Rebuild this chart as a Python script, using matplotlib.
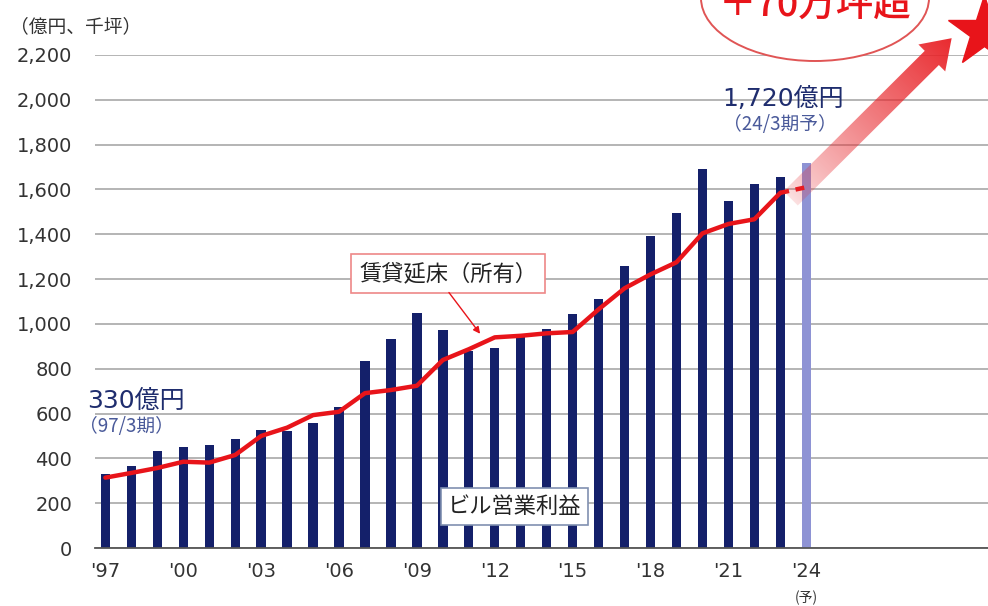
import numpy as np
import matplotlib
matplotlib.use("Agg")
import matplotlib.pyplot as plt
from matplotlib.patches import Polygon, Ellipse

plt.rcParams['font.family'] = ['DejaVu Sans', 'Noto Sans CJK JP']

# data
years = list(range(1997, 2025))
profit = [330, 366, 435, 452, 458, 487, 528, 523, 557, 630, 834, 932, 1050, 973,
          880, 894, 940, 976, 1043, 1110, 1260, 1392, 1496, 1690, 1548, 1623, 1654, 1720]
floor = [314, 335, 357, 385, 381, 415, 500, 537, 593, 608, 691, 705, 724, 839,
         887, 940, 947, 958, 964, 1065, 1159, 1221, 1275, 1404, 1446, 1467, 1585, 1610]
tick_years = [1997, 2000, 2003, 2006, 2009, 2012, 2015, 2018, 2021, 2024]
tick_labels = ["'97", "'00", "'03", "'06", "'09", "'12", "'15", "'18", "'21", "'24"]
yticks = list(range(0, 2201, 200))

W, H = 988, 606
NAVY = '#14206a'
RED = '#e8141a'
JP = ['Noto Sans CJK JP', 'DejaVu Sans']

fig = plt.figure(figsize=(W / 100, H / 100), dpi=100)
ax = fig.add_axes([95 / W, 58 / H, (W - 95) / W, (548 - 55) / H])

colors = [NAVY] * (len(years) - 1) + ['#8e93d4']
ax.bar(years, profit, width=0.36, color=colors, zorder=2)
ax.plot(years[:-1], floor[:-1], color=RED, lw=3.2, zorder=3, solid_capstyle='round')
ax.plot(years[-2:], floor[-2:], color=RED, lw=3.2, ls=(0, (2, 1.5)), zorder=3)

ax.set_xlim(1996.6, 2031.0)
ax.set_ylim(0, 2200)
ax.set_yticks(yticks)
ax.set_yticklabels([f'{v:,}' for v in yticks], fontsize=14, color='#333333')
ax.set_xticks(tick_years)
ax.set_xticklabels(tick_labels, fontsize=14, color='#333333')
ax.tick_params(axis='both', length=0)
ax.tick_params(axis='y', pad=16.5)
ax.tick_params(axis='x', pad=10)
ax.grid(axis='y', color='#b4b4b4', lw=1.4, zorder=0)
for s in ['top', 'right', 'left']:
    ax.spines[s].set_visible(False)
ax.spines['bottom'].set_color('#555555')
ax.spines['bottom'].set_linewidth(1.3)
ax.set_axisbelow(True)

ax.text(2024, -222, '(予)', fontsize=10, ha='center', va='center', family=JP, color='#333333')
fig.text(10 / W, 1 - 27 / H, '（億円、千坪）', fontsize=13.5, family=JP, color='#333333', va='center')

# value labels
ax.text(1996.3, 655, '330億円', fontsize=18, color='#1f2d6e', va='center', ha='left')
ax.text(1996.0, 540, '（97/3期）', fontsize=13.5, color='#4a5a9a', va='center', ha='left', family=JP)
ax.text(2023.1, 2005, '1,720億円', fontsize=18, color='#1f2d6e', va='center', ha='center')
ax.text(2023.0, 1890, '（24/3期予）', fontsize=13.5, color='#4a5a9a', va='center', ha='center', family=JP)

# label boxes
ax.text(2010.2, 1225, '賃貸延床（所有）', fontsize=16, family=JP, color='#222222',
        ha='center', va='center', zorder=5,
        bbox=dict(boxstyle='square,pad=0.35', fc='white', ec='#ee8888', lw=1.2))
ax.annotate('', xy=(2011.5, 946), xytext=(2010.17, 1150),
            arrowprops=dict(arrowstyle='-|>', color=RED, lw=1, mutation_scale=10), zorder=5)
ax.text(2012.75, 185, 'ビル営業利益', fontsize=16, family=JP, color='#222222',
        ha='center', va='center', zorder=5,
        bbox=dict(boxstyle='square,pad=0.3', fc='white', ec='#8090b0', lw=1.2))

# decoration layer in pixel coords
deco = fig.add_axes([0, 0, 1, 1])
deco.set_xlim(0, W)
deco.set_ylim(0, H)
deco.axis('off')
deco.patch.set_visible(False)

start = ax.transData.transform((2023.4, 1560))
tip = ax.transData.transform((2029.6, 2275))
u = (tip - start) / np.linalg.norm(tip - start)
n = np.array([-u[1], u[0]])
L = np.linalg.norm(tip - start)
hw, hh, hl = 10, 19, 28
base = tip - u * hl
pts = [start + n * hw, base + n * hw, base + n * hh, tip, base - n * hh, base - n * hw, start - n * hw]
poly = Polygon(pts, closed=True, fc='none', ec='none')
deco.add_patch(poly)
X, Y = np.meshgrid(np.linspace(0, W, W), np.linspace(0, H, H))
t = ((X - start[0]) * u[0] + (Y - start[1]) * u[1]) / L
t = np.clip(t, 0, 1)
img = np.zeros((H, W, 4))
img[..., 0] = 0.91
img[..., 1] = 0.12 + 0.1 * (1 - t)
img[..., 2] = 0.14 + 0.1 * (1 - t)
img[..., 3] = 0.15 + 0.8 * t ** 0.8
im = deco.imshow(img, extent=(0, W, 0, H), origin='lower', aspect='auto', zorder=2)
im.set_clip_path(poly)

deco.plot([984], [H - 32], marker='*', markersize=54, color=RED, mec=RED, clip_on=False, zorder=3)

deco.add_patch(Ellipse((815, H + 2), 228, 126, fc='white', ec='#e05555', lw=1.4, zorder=3))
deco.text(815, H - 5, '＋70万坪超', fontsize=27, color=RED, ha='center', va='center',
          family=JP, weight='medium', zorder=4)

fig.savefig('out.png', dpi=100)
